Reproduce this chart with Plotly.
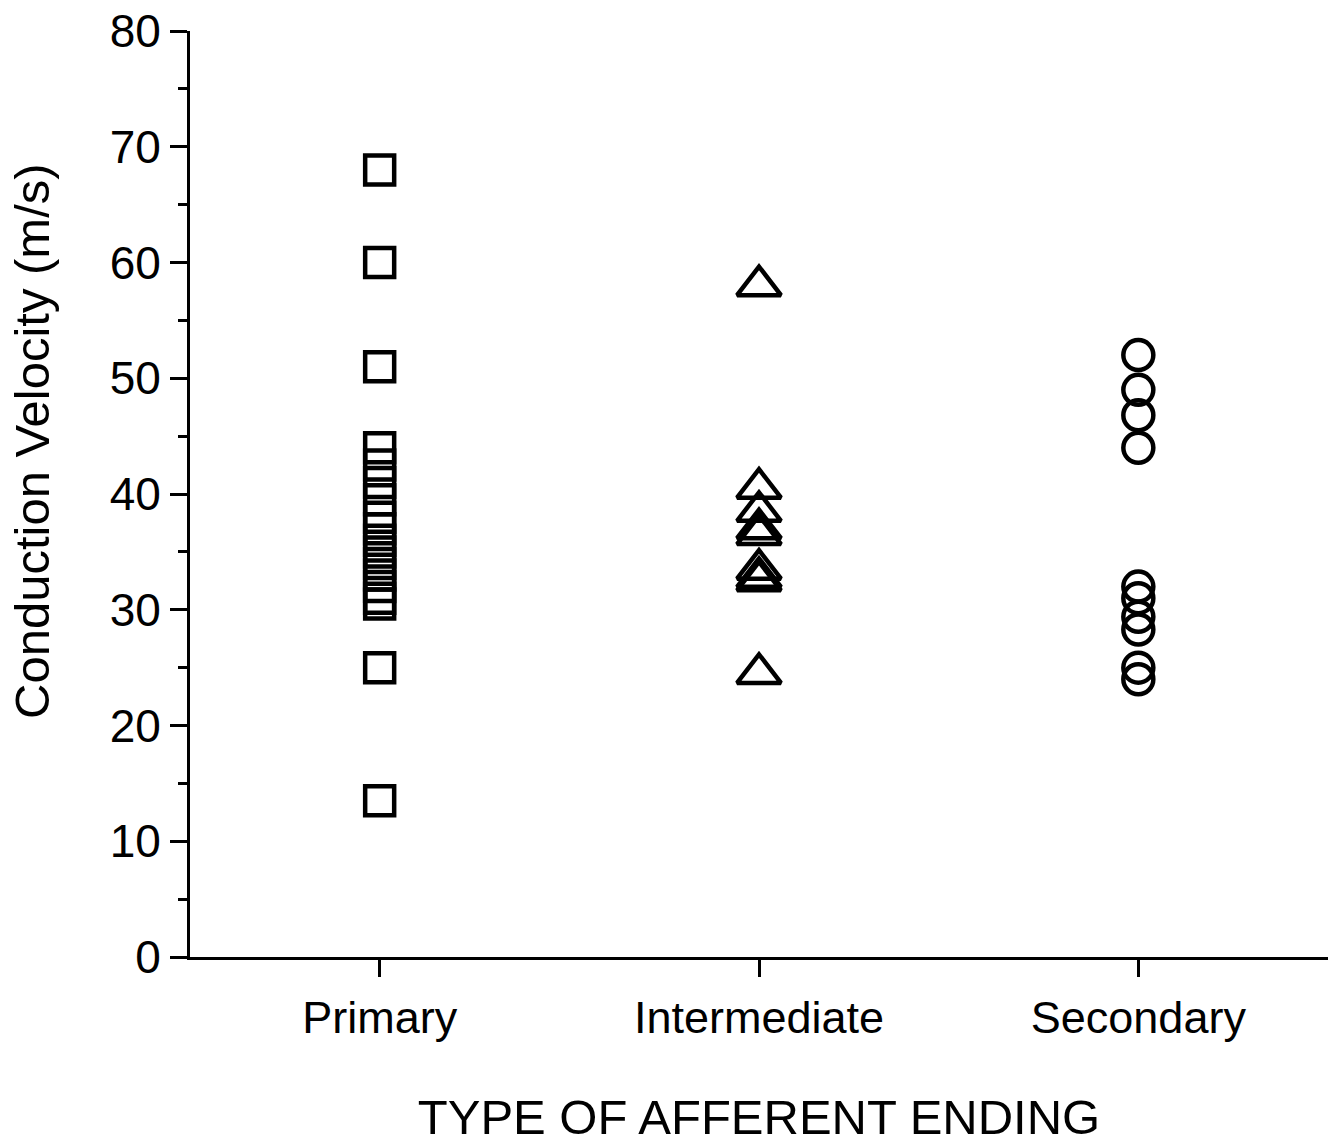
import plotly.graph_objects as go

categories = ["Primary", "Intermediate", "Secondary"]
primary = [68, 60, 51, 44, 42.5, 41, 39.5, 38, 37, 36, 35, 34, 33, 32, 31, 30.5, 25, 13.5]
intermediate = [58, 40.5, 38.5, 37, 36.5, 33.5, 32.8, 32.5, 24.5]
secondary = [52, 49, 46.8, 44, 32, 31, 29.4, 28.3, 25, 24]

fig = go.Figure()
series = [(primary, "square-open", 29), (intermediate, "triangle-up-open", 38), (secondary, "circle-open", 30)]
for i, (vals, sym, sz) in enumerate(series):
    fig.add_trace(go.Scatter(
        x=[i + 1] * len(vals), y=vals, mode="markers",
        marker=dict(symbol=sym, size=sz, color="black", line=dict(width=4.5, color="black")),
        showlegend=False))

font_family = "Liberation Sans, Arial, sans-serif"
fig.update_layout(
    width=1340, height=1144,
    margin=dict(l=190, r=12, t=31, b=187),
    plot_bgcolor="white", paper_bgcolor="white",
    font=dict(family=font_family, color="black"),
    xaxis=dict(
        range=[0.5, 3.5], tickvals=[1, 2, 3], ticktext=categories,
        ticks="outside", ticklen=17, tickwidth=3, tickcolor="black",
        showline=True, linewidth=3, linecolor="black", showgrid=False, zeroline=False,
        tickfont=dict(size=45), ticklabelstandoff=2, automargin=False,
        title=dict(text="TYPE OF AFFERENT ENDING", font=dict(size=49), standoff=60),
    ),
    yaxis=dict(
        range=[0, 80], tickvals=list(range(0, 81, 10)),
        ticks="outside", ticklen=17, tickwidth=3, tickcolor="black",
        minor=dict(tickvals=list(range(5, 80, 10)), ticks="outside", ticklen=9, tickwidth=3, tickcolor="black"),
        showline=True, linewidth=3, linecolor="black", showgrid=False, zeroline=False,
        tickfont=dict(size=46), ticklabelstandoff=0, automargin=False,
    ),
    annotations=[dict(
        text="Conduction Velocity (m/s)", textangle=-90,
        xref="paper", yref="paper", x=(32 - 190) / (1340 - 202), y=(957 - 441) / 926,
        xanchor="center", yanchor="middle", showarrow=False,
        font=dict(size=49, family=font_family, color="black"),
    )],
)
fig.write_html("out.html")
